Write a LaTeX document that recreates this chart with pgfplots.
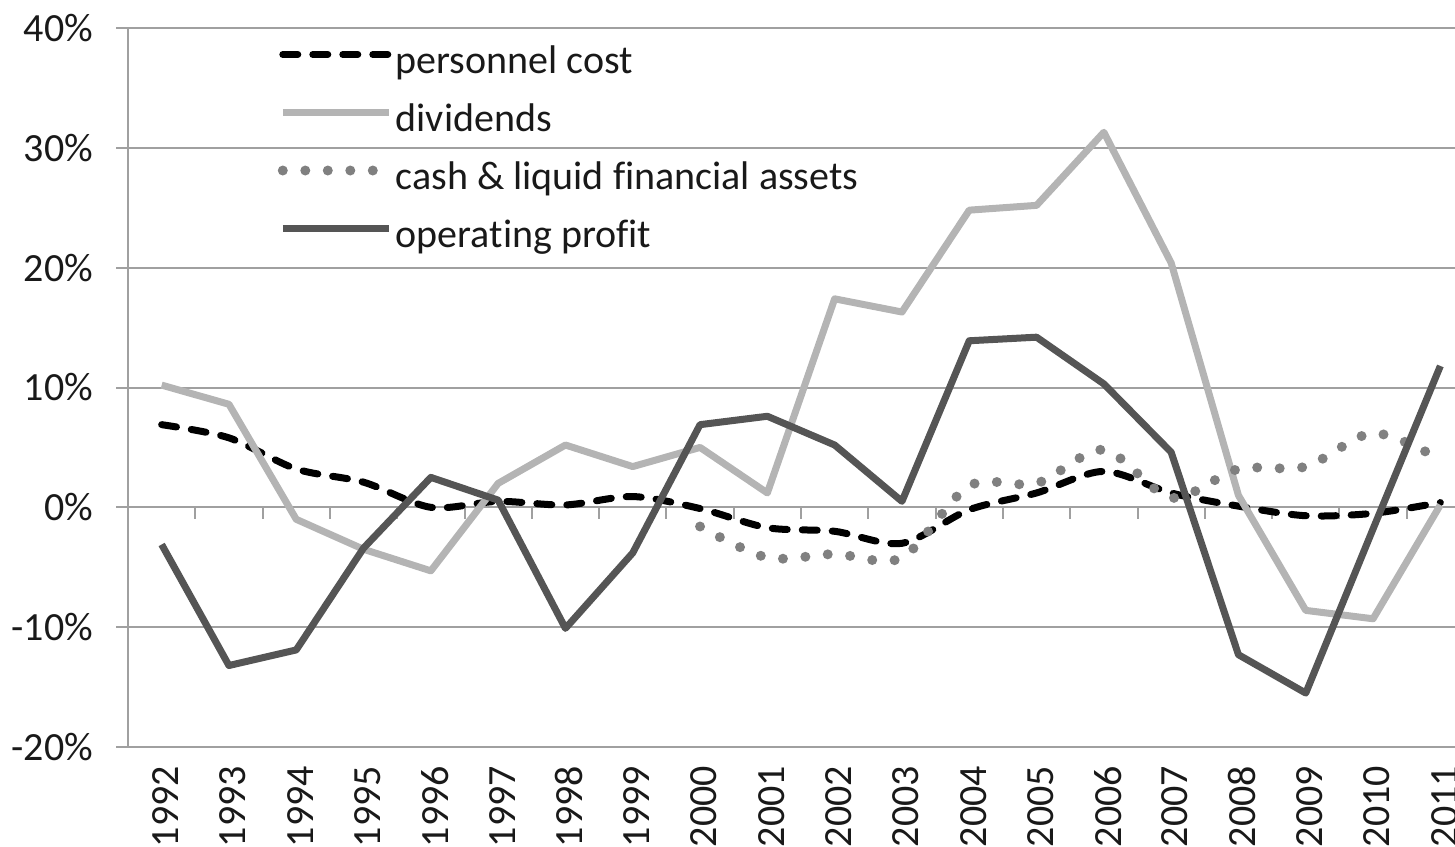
\documentclass[border=0pt]{standalone}
\usepackage{fontspec}
\setmainfont{Carlito}[Ligatures={NoCommon}]
\usepackage{pgfplots}
\usepackage{pgfplotstable}
\pgfplotsset{compat=1.18}

\definecolor{gridgray}{RGB}{160,160,160}
\definecolor{divgray}{RGB}{180,180,180}
\definecolor{cashgray}{RGB}{128,128,128}
\definecolor{opgray}{RGB}{85,85,85}
\definecolor{txt}{RGB}{25,25,25}

\pgfplotstableread{
year val
1992 6.9
1993 5.8
1994 3.2
1995 2.1
1996 0.0
1997 0.5
1998 0.2
1999 0.9
2000 -0.1
2001 -1.7
2002 -2.0
2003 -3.0
2004 -0.2
2005 1.2
2006 3.0
2007 1.2
2008 0.1
2009 -0.7
2010 -0.5
2011 0.4
}\personnel

\pgfplotstableread{
year val
1992 10.2
1993 8.6
1994 -1.0
1995 -3.5
1996 -5.3
1997 2.0
1998 5.2
1999 3.4
2000 5.0
2001 1.2
2002 17.4
2003 16.3
2004 24.8
2005 25.2
2006 31.3
2007 20.4
2008 1.0
2009 -8.6
2010 -9.3
2011 0.2
}\dividends

\pgfplotstableread{
year val
2000 -1.6
2001 -4.2
2002 -3.9
2003 -4.2
2004 1.8
2005 2.0
2006 4.8
2007 0.8
2008 3.2
2009 3.4
2010 6.2
2011 4.0
}\cash

\pgfplotstableread{
year val
1992 -3.1
1993 -13.2
1994 -11.9
1995 -3.4
1996 2.5
1997 0.6
1998 -10.1
1999 -3.8
2000 6.9
2001 7.6
2002 5.2
2003 0.5
2004 13.9
2005 14.2
2006 10.3
2007 4.6
2008 -12.3
2009 -15.5
2010 -1.8
2011 11.8
}\operating

\begin{document}
\begin{tikzpicture}
\begin{axis}[
    at={(0,0)}, anchor=south west,
    scale only axis,
    width=673pt, height=359.5pt,
    xmin=1991.5, xmax=2011.5,
    ymin=-20, ymax=40,
    xtick={1992,...,2011},
    ytick={-20,-10,...,40},
    /pgf/number format/assume math mode=true,
    /pgf/number format/1000 sep={},
    yticklabel={\pgfmathprintnumber{\tick}\%},
    tick label style={font=\fontsize{20}{24}\selectfont, text=txt},
    xticklabel style={rotate=90, anchor=east, yshift=-2pt},
    yticklabel style={xshift=-8pt},
    axis x line=bottom, axis y line=left,
    axis line style={-, draw=gridgray, line width=1pt},
    ymajorgrids,
    grid style={draw=gridgray, line width=1pt},
    tick align=outside,
    major tick length=6pt,
    xtick style={draw=none},
    ytick style={draw=gridgray, line width=1pt},
    legend style={at={(axis description cs:0.111,0.979)}, anchor=north west,
        draw=none, fill=none, inner sep=0pt,
        font=\fontsize{20}{24}\selectfont, text=txt,
        nodes={inner sep=1pt, text height=14pt, text depth=5pt},
        row sep=8pt,
        /tikz/every odd column/.append style={column sep=0pt}},
    legend cell align=left,
    legend image code/.code={\draw[#1] (0pt,5pt) -- (53pt,5pt);},
]
\pgfplotsinvokeforeach{1992,...,2010}{
    \draw[gridgray, line width=1pt] (axis cs:#1.5,0) -- ([yshift=-6pt]axis cs:#1.5,0);
}
\addplot[black, line width=3.5pt, line cap=round, dash pattern=on 7.5pt off 7.5pt, smooth] table[x=year, y=val] {\personnel};
\addplot[divgray, line width=3.5pt, line join=round] table[x=year, y=val] {\dividends};
\addplot[cashgray, line width=5pt, line cap=round, dash pattern=on 0pt off 11.25pt, smooth] table[x=year, y=val] {\cash};
\addplot[opgray, line width=3.5pt, line join=round] table[x=year, y=val] {\operating};
\legend{personnel cost, dividends, cash \& liquid financial assets, operating profit}
\end{axis}
\pgfresetboundingbox
\path[use as bounding box] (-64pt,-49.5pt) rectangle (663.5pt,373.5pt);
\end{tikzpicture}
\end{document}
